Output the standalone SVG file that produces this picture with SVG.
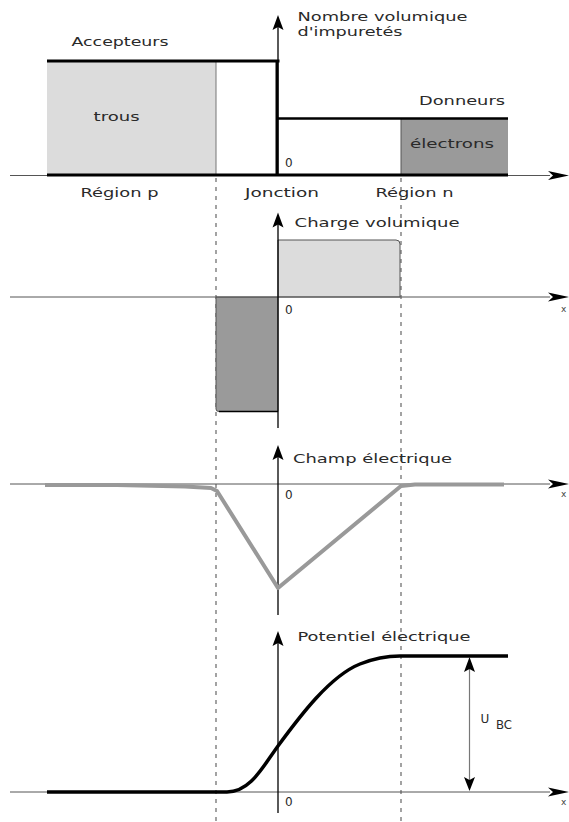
<svg xmlns="http://www.w3.org/2000/svg" width="569" height="822" viewBox="0 0 569 822">
<style>
text{font-family:"DejaVu Sans","Liberation Sans",sans-serif;font-size:12px;fill:#2a2a2a}
.haxis{stroke:#555;stroke-width:1;fill:none}
.vaxis{stroke:#000;stroke-width:1.3;fill:none}
.dash{stroke:#666;stroke-width:1.2;stroke-dasharray:4,5;fill:none}
.thick{stroke:#000;stroke-width:3;fill:none}
.xl{font-size:9px;fill:#444}
</style>
<defs>
<path id="ah" d="M0,0 L-21,-4.5 L-16,0 L-21,4.5 Z"/>
<path id="av" d="M0,0 L5.5,15 L0,12 L-5.5,15 Z"/>
<path id="sm" d="M0,0 L-5.5,-14 L0,-11 L5.5,-14 Z"/>
</defs>
<rect width="569" height="822" fill="#fff"/>

<g id="guides">
<line class="dash" x1="216" y1="178" x2="216" y2="822"/>
<line class="dash" x1="401" y1="178" x2="401" y2="822"/>
</g>

<g id="panel-impuretes">
<rect x="47" y="61" width="169" height="114" fill="#dcdcdc"/>
<line x1="216" y1="61" x2="216" y2="175" stroke="#777" stroke-width="1"/>
<rect x="401" y="118.5" width="107" height="56.5" fill="#9a9a9a"/>
<line x1="401" y1="118.5" x2="401" y2="175" stroke="#555" stroke-width="1"/>
<line class="haxis" x1="10" y1="175.5" x2="550" y2="175.5"/>
<use href="#ah" x="569" y="175.5"/>
<line class="vaxis" x1="278" y1="25" x2="278" y2="175"/>
<use href="#av" x="278" y="15"/>
<line class="thick" x1="47" y1="61" x2="279.5" y2="61"/>
<line class="thick" x1="277" y1="61" x2="277" y2="175"/>
<line x1="277" y1="118.5" x2="508" y2="118.5" stroke="#000" stroke-width="2.5"/>
<line class="thick" x1="47" y1="175" x2="508" y2="175"/>
<text x="297.5" y="21" textLength="170" lengthAdjust="spacingAndGlyphs">Nombre volumique</text>
<text x="297.5" y="36" textLength="105" lengthAdjust="spacingAndGlyphs">d'impuretés</text>
<text x="71.5" y="46" textLength="97" lengthAdjust="spacingAndGlyphs">Accepteurs</text>
<text x="93.6" y="121" textLength="46" lengthAdjust="spacingAndGlyphs">trous</text>
<text x="419" y="105" textLength="86" lengthAdjust="spacingAndGlyphs">Donneurs</text>
<text x="410" y="148" textLength="84" lengthAdjust="spacingAndGlyphs">électrons</text>
<text x="285" y="167" font-size="13">0</text>
<text x="80.5" y="197" textLength="78" lengthAdjust="spacingAndGlyphs">Région p</text>
<text x="245" y="197" textLength="74" lengthAdjust="spacingAndGlyphs">Jonction</text>
<text x="375.5" y="197" textLength="78" lengthAdjust="spacingAndGlyphs">Région n</text>
</g>

<g id="panel-charge">
<path d="M278,297 L278,240 L396,240 Q400,240 400,244 L400,297 Z" fill="#dcdcdc" stroke="#555" stroke-width="1"/>
<path d="M216,297 L216,409 Q216,411.5 219,411.5 L278,411.5 L278,297 Z" fill="#9a9a9a" stroke="#555" stroke-width="1"/>
<line x1="219" y1="411.5" x2="278" y2="411.5" stroke="#000" stroke-width="1.5"/>
<line class="haxis" x1="10" y1="297" x2="550" y2="297"/>
<use href="#ah" x="569" y="297"/>
<line class="vaxis" x1="278" y1="222" x2="278" y2="428"/>
<use href="#av" x="278" y="212.5"/>
<text x="294.6" y="227" textLength="165" lengthAdjust="spacingAndGlyphs">Charge volumique</text>
<text x="285" y="314" font-size="13">0</text>
<text class="xl" x="561" y="312">x</text>
</g>

<g id="panel-champ">
<line class="haxis" x1="10" y1="484" x2="550" y2="484"/>
<use href="#ah" x="569" y="484"/>
<line class="vaxis" x1="278" y1="455" x2="278" y2="615"/>
<use href="#av" x="278" y="445"/>
<polyline points="45,485 117,485 185,486.5 211,488 217,491 278,588 401,486 415,484.5 504,484.5" fill="none" stroke="#999" stroke-width="4" stroke-linejoin="round"/>
<text x="293" y="463" textLength="159" lengthAdjust="spacingAndGlyphs">Champ électrique</text>
<text x="285" y="499" font-size="13">0</text>
<text class="xl" x="561" y="497">x</text>
</g>

<g id="panel-potentiel">
<line class="haxis" x1="10" y1="792" x2="550" y2="792"/>
<use href="#ah" x="569" y="792"/>
<line class="vaxis" x1="278" y1="641" x2="278" y2="813"/>
<use href="#av" x="278" y="631"/>
<path d="M47,792 L227,792 C250,792 262,768 278,746 C300,716 330,676 360,664 C375,658 390,656 400,656 L508,656" fill="none" stroke="#000" stroke-width="3.5"/>
<text x="297.5" y="641" textLength="173" lengthAdjust="spacingAndGlyphs">Potentiel électrique</text>
<text x="285" y="806" font-size="13">0</text>
<text class="xl" x="561" y="805">x</text>
</g>

<g id="connectors">
<line x1="469.5" y1="668" x2="469.5" y2="780" stroke="#777" stroke-width="1.2"/>
<use href="#av" x="469.5" y="657"/>
<use href="#sm" x="469.5" y="791"/>
<text x="480.5" y="723" font-size="13">U</text>
<text x="496" y="729" font-size="9" textLength="16" lengthAdjust="spacingAndGlyphs" fill="#555">BC</text>
</g>
</svg>
